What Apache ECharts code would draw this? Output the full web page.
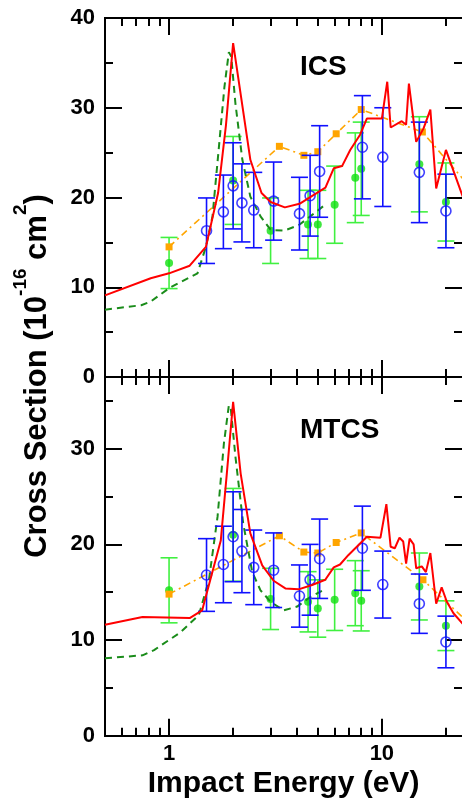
<!DOCTYPE html>
<html><head><meta charset="utf-8">
<script src="https://cdn.jsdelivr.net/npm/echarts@6/dist/echarts.min.js"></script>
<style>html,body{margin:0;padding:0;background:#fff}#c{width:462px;height:801px}</style>
</head><body><div id="c"></div><script>
// ---------- DATA ----------
// x tick values (eV)
const xMajorTicks = [1, 10];
const xMinorTicks = [0.6, 0.7, 0.8, 0.9, 2, 3, 4, 5, 6, 7, 8, 9, 20];
const xLabels = [1, 10];
const yMajorTicksICS = [0, 10, 20, 30, 40];
const yMinorTicksICS = [5, 15, 25, 35];
const yMajorTicksMT = [0, 10, 20, 30];
const yMinorTicksMT = [5, 15, 25, 35];

// ICS panel
const icsRedE = [0.5, 0.82, 1.0, 1.25, 1.49, 1.7, 1.85, 2.0, 2.41, 2.72, 3.0, 3.5, 4.1, 5.43, 5.94, 6.5, 7.1, 7.9, 8.5, 10.0, 10.6, 11.0, 12.4, 13.0, 13.4, 14.5, 15.7, 16.9, 18.0, 20.0, 24.0];
const icsRedV = [9.1, 11.0, 11.55, 12.4, 14.5, 20.5, 28.0, 37.2, 24.2, 20.5, 19.5, 18.9, 19.3, 21.1, 23.25, 23.5, 25.3, 27.0, 28.8, 28.8, 32.9, 27.8, 28.5, 28.1, 32.7, 26.2, 27.7, 29.8, 21.0, 25.3, 20.1];
const icsDashE = [0.5, 0.74, 0.82, 1.0, 1.36, 1.49, 1.6, 1.71, 1.82, 1.91, 1.96, 2.05, 2.21, 2.41, 2.69, 3.0, 3.46, 4.06, 4.61, 5.42];
const icsDashV = [7.5, 8.0, 8.4, 9.9, 11.55, 14.5, 17.9, 25.3, 32.3, 36.2, 35.7, 30.5, 24.2, 20.1, 17.9, 16.4, 16.3, 16.9, 17.9, 19.2];
const icsOrangeE = [1.0, 3.3, 4.3, 5.0, 6.1, 8.0, 15.5, 25];
const icsOrangeV = [14.5, 25.7, 24.7, 25.1, 27.1, 29.8, 27.3, 21.6];
const icsBlueE = [1.5, 1.8, 2.0, 2.2, 2.5, 3.1, 4.1, 4.6, 5.1, 8.1, 10.1, 15, 20];
const icsBlueV = [16.3, 18.4, 21.3, 19.4, 18.6, 19.6, 18.2, 20.2, 22.9, 25.6, 24.5, 22.8, 18.5];
const icsBlueErr = [3.65, 4.1, 4.8, 4.35, 4.2, 4.35, 4.05, 4.5, 5.1, 5.75, 5.5, 5.6, 4.1];
const icsGreenE = [1, 2, 3, 4.5, 5, 6, 7.5, 8, 15, 20];
const icsGreenV = [12.7, 21.9, 16.3, 17.0, 17.0, 19.2, 22.2, 23.2, 23.7, 19.5];
const icsGreenErr = [2.85, 4.9, 3.65, 3.8, 3.8, 4.3, 5.0, 5.2, 5.3, 4.35];

// MTCS panel
const mtRedE = [0.5, 0.75, 1.25, 1.43, 1.75, 1.87, 2.0, 2.17, 2.41, 2.74, 3.1, 3.52, 4.06, 4.7, 5.42, 5.94, 6.36, 6.97, 7.9, 8.5, 9.85, 10.5, 11.0, 11.5, 12.1, 12.6, 13.0, 13.5, 14.1, 14.5, 15.4, 16.1, 16.9, 18.0, 19.1, 20.2, 21.7, 24];
const mtRedV = [11.6, 12.4, 12.3, 13.1, 20.4, 27.5, 34.9, 27.4, 21.15, 17.8, 16.2, 15.4, 15.3, 15.75, 16.3, 17.6, 17.9, 18.9, 20.1, 20.8, 20.7, 24.2, 19.75, 19.6, 20.7, 20.3, 18.0, 20.6, 20.0, 17.5, 17.7, 17.1, 19.1, 13.8, 15.5, 14.0, 12.8, 11.7];
const mtDashE = [0.5, 0.75, 0.85, 1.13, 1.38, 1.54, 1.69, 1.81, 1.91, 1.95, 2.05, 2.23, 2.46, 2.69, 3.0, 3.46, 4.0, 4.61, 5.3];
const mtDashV = [8.1, 8.4, 8.95, 10.8, 12.6, 16.3, 22.9, 30.55, 34.55, 34.2, 29.2, 22.2, 17.1, 15.2, 14.0, 13.1, 13.5, 14.5, 15.2];
const mtOrangeE = [1.0, 3.3, 4.3, 5.0, 6.1, 8.0, 15.6, 25];
const mtOrangeV = [14.8, 20.9, 19.2, 19.1, 20.2, 21.2, 16.3, 12.0];
const mtBlueE = [1.5, 1.8, 2.0, 2.2, 2.5, 3.1, 4.1, 4.6, 5.1, 8.1, 10.1, 15, 20];
const mtBlueV = [16.8, 17.9, 20.8, 19.3, 17.6, 17.3, 14.6, 16.3, 18.5, 19.6, 15.8, 13.8, 9.8];
const mtBlueErr = [3.8, 4.0, 4.7, 4.35, 3.9, 3.9, 3.25, 3.7, 4.15, 4.4, 3.5, 3.1, 2.7];
const mtGreenE = [1, 2, 3, 4.5, 5, 6, 7.5, 8, 15, 20];
const mtGreenV = [15.2, 21.0, 14.3, 14.0, 13.3, 14.2, 14.9, 14.1, 15.6, 11.5];
const mtGreenErr = [3.4, 4.85, 3.2, 3.15, 3.0, 3.2, 3.4, 3.15, 3.5, 2.6];

// ---------- CHART ----------
const FONT = 'Liberation Sans';
const RED = '#ff0000', DGREEN = '#1a8c1a', ORANGE = '#ffa500', BLUE = '#1010ff', LGREEN = '#40f040', GDOT = '#10e010';
const zip2 = (a, b) => a.map((v, i) => [v, b[i]]);
const zip3 = (a, b, c) => a.map((v, i) => [v, b[i], c[i]]);
const XMIN = 0.5, XMAX = 23.8;

const chart = echarts.init(document.getElementById('c'), null, {renderer: 'canvas'});

const tickStyle = {color: '#000', width: 2};
function xAxes(gi, showLabel) {
  const base = {gridIndex: gi, type: 'log', logBase: 10, min: XMIN, max: XMAX,
    splitLine: {show: false}, axisLine: {show: true, onZero: false, lineStyle: {color: '#000', width: 2}},
    axisLabel: {show: false}};
  const mk = (pos, len, vals, lab) => Object.assign({}, base, {
    position: pos,
    axisTick: {show: true, inside: true, length: len, lineStyle: tickStyle, customValues: vals},
    axisLabel: lab ? {show: true, customValues: xLabels, color: '#000', fontSize: 22, fontWeight: 'bold', fontFamily: FONT, margin: 7,
      formatter: v => String(Math.round(v))} : {show: false},
    name: lab ? 'Impact Energy (eV)' : '', nameLocation: 'middle', nameGap: 33,
    nameTextStyle: {color: '#000', fontSize: 30, fontWeight: 'bold', fontFamily: FONT}
  });
  return [mk('bottom', 17, xMajorTicks, showLabel), mk('bottom', 8, xMinorTicks, false),
          mk('top', 17, xMajorTicks, false), mk('top', 8, xMinorTicks, false)];
}
function yAxes(gi, max, majors, minors) {
  const base = {gridIndex: gi, type: 'value', min: 0, max: max, splitLine: {show: false}};
  const mk = (pos, len, vals, lab) => Object.assign({}, base, {
    position: pos, offset: 0,
    axisLine: {show: pos === 'left', onZero: false, lineStyle: {color: '#000', width: 2}},
    axisTick: {show: true, inside: true, length: len, lineStyle: tickStyle, customValues: vals},
    axisLabel: lab ? {show: true, customValues: majors, color: '#000', fontSize: 22, fontWeight: 'bold', fontFamily: FONT, margin: 10} : {show: false}
  });
  return [mk('left', 17, majors, true), mk('left', 8, minors, false), mk('right', 17, majors, false), mk('right', 8, minors, false)];
}

function errRender(color) {
  return function (params, api) {
    const x = api.value(0), y = api.value(1), e = api.value(2);
    const t = api.coord([x, y + e]), b = api.coord([x, y - e]);
    const w = 8.5, st = {stroke: color, lineWidth: 1.6};
    return {type: 'group', children: [
      {type: 'line', shape: {x1: t[0], y1: t[1], x2: b[0], y2: b[1]}, style: st},
      {type: 'line', shape: {x1: t[0] - w, y1: t[1], x2: t[0] + w, y2: t[1]}, style: st},
      {type: 'line', shape: {x1: b[0] - w, y1: b[1], x2: b[0] + w, y2: b[1]}, style: st}
    ]};
  };
}

function panelSeries(xi, yi, d) {
  return [
    {type: 'custom', xAxisIndex: xi, yAxisIndex: yi, renderItem: errRender(LGREEN), data: zip3(d.gE, d.gV, d.gErr), encode: {x: 0, y: 1}, z: 2},
    {type: 'scatter', xAxisIndex: xi, yAxisIndex: yi, symbol: 'circle', symbolSize: 8, itemStyle: {color: GDOT}, data: zip2(d.gE, d.gV), z: 3},
    {type: 'line', xAxisIndex: xi, yAxisIndex: yi, data: zip2(d.oE, d.oV), symbol: 'rect', symbolSize: 7, showSymbol: true,
      itemStyle: {color: ORANGE}, lineStyle: {color: ORANGE, width: 1.6, type: [7, 4, 2, 4]}, z: 4},
    {type: 'line', xAxisIndex: xi, yAxisIndex: yi, data: zip2(d.dE, d.dV), symbol: 'none', lineStyle: {color: DGREEN, width: 2, type: [7, 5]}, z: 5},
    {type: 'custom', xAxisIndex: xi, yAxisIndex: yi, renderItem: errRender(BLUE), data: zip3(d.bE, d.bV, d.bErr), encode: {x: 0, y: 1}, z: 6},
    {type: 'scatter', xAxisIndex: xi, yAxisIndex: yi, symbol: 'circle', symbolSize: 10,
      itemStyle: {color: 'rgba(0,0,0,0)', borderColor: BLUE, borderWidth: 1.6}, data: zip2(d.bE, d.bV), z: 7},
    {type: 'line', xAxisIndex: xi, yAxisIndex: yi, data: zip2(d.rE, d.rV), symbol: 'none', lineStyle: {color: RED, width: 2}, z: 8}
  ];
}

const option = {
  animation: false,
  backgroundColor: '#fff',
  grid: [
    {left: 105, top: 18, width: 357, height: 359},
    {left: 105, top: 377, width: 357, height: 358.7}
  ],
  xAxis: [...xAxes(0, false), ...xAxes(1, true)],
  yAxis: [...yAxes(0, 40, yMajorTicksICS, yMinorTicksICS), ...yAxes(1, 37.5, yMajorTicksMT, yMinorTicksMT)],
  series: [
    ...panelSeries(0, 0, {rE: icsRedE, rV: icsRedV, dE: icsDashE, dV: icsDashV, oE: icsOrangeE, oV: icsOrangeV,
      bE: icsBlueE, bV: icsBlueV, bErr: icsBlueErr, gE: icsGreenE, gV: icsGreenV, gErr: icsGreenErr}),
    ...panelSeries(4, 4, {rE: mtRedE, rV: mtRedV, dE: mtDashE, dV: mtDashV, oE: mtOrangeE, oV: mtOrangeV,
      bE: mtBlueE, bV: mtBlueV, bErr: mtBlueErr, gE: mtGreenE, gV: mtGreenV, gErr: mtGreenErr})
  ],
  graphic: [
    {type: 'text', left: 300, top: 53, style: {text: 'ICS', fill: '#000', fontSize: 28, fontWeight: 'bold', fontFamily: FONT}},
    {type: 'text', left: 300, top: 416, style: {text: 'MTCS', fill: '#000', fontSize: 28, fontWeight: 'bold', fontFamily: FONT}},
    {type: 'text', x: 32, y: 376, rotation: Math.PI / 2,
      style: {text: '{n|Cross Section (10}{s|-16}{n| cm}{s|2}{n|)}', fill: '#000', align: 'center', verticalAlign: 'middle',
        rich: {
          n: {fontSize: 31, fontWeight: 'bold', fontFamily: FONT, verticalAlign: 'bottom', fill: '#000'},
          s: {fontSize: 19, fontWeight: 'bold', fontFamily: FONT, verticalAlign: 'bottom', padding: [0, 0, 22, 0], fill: '#000'}
        }}}
  ]
};
chart.setOption(option);
</script></body></html>
